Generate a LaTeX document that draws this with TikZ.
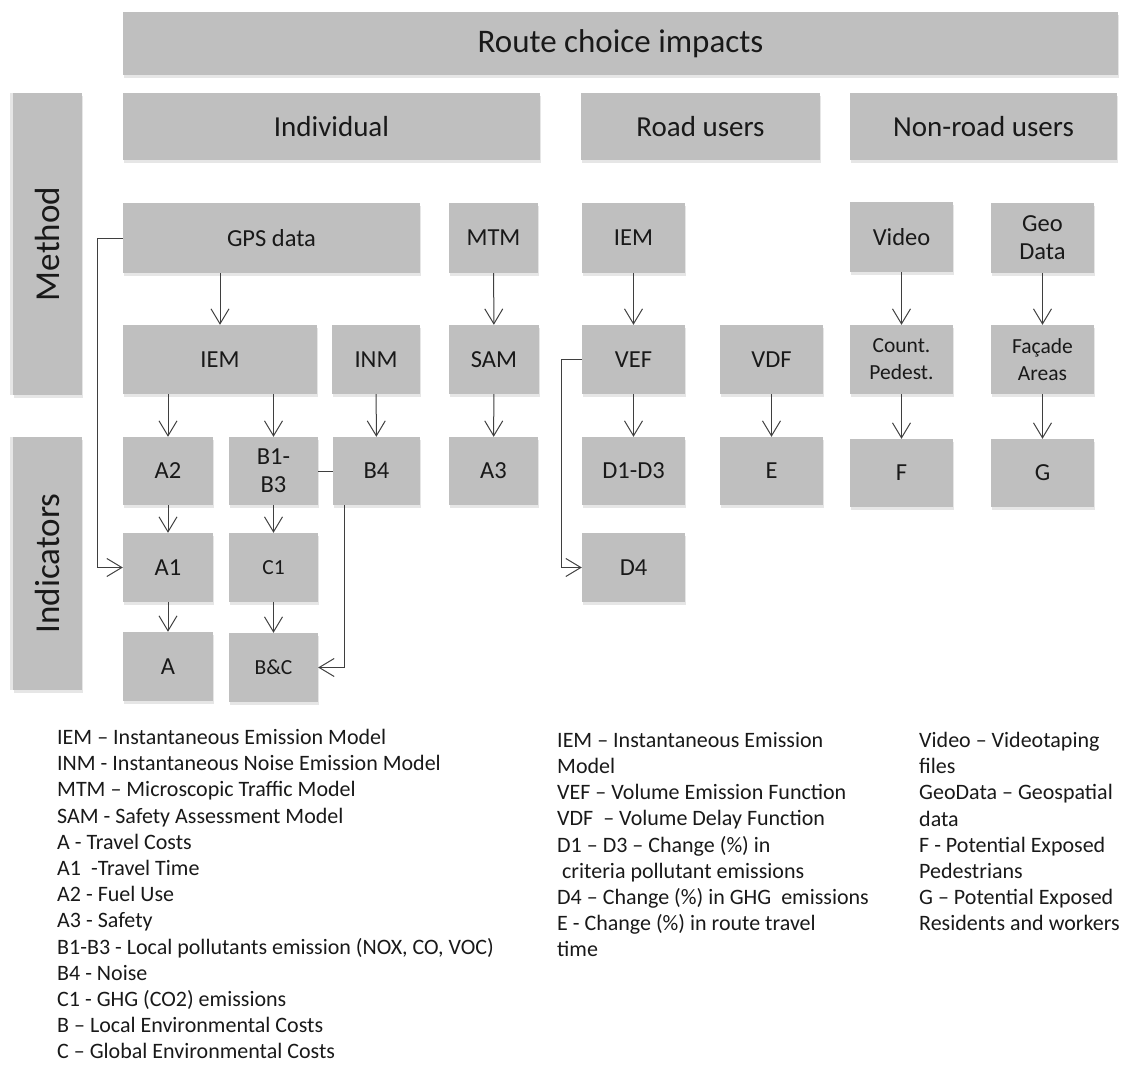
\documentclass[tikz,border=0pt]{standalone}
\usepackage{fontspec}
\setmainfont{Carlito}
\usetikzlibrary{arrows.meta,shadows}
\definecolor{boxgray}{HTML}{BFBFBF}
\definecolor{linegray}{HTML}{3F3F3F}
\tikzstyle{box}=[fill=boxgray, inner sep=0pt, align=center, text=black!90,
  drop shadow={shadow xshift=1pt,shadow yshift=-3pt,opacity=0.2},
  font=\fontsize{24.5}{28}\selectfont]
\tikzstyle{small}=[box, font=\fontsize{21.5}{27}\selectfont]
\tikzstyle{head}=[box, minimum height=67pt, font=\fontsize{29}{34}\selectfont]
\tikzstyle{side}=[box, minimum height=69pt, rotate=90,
  drop shadow={shadow xshift=-3pt,shadow yshift=0pt,opacity=0.2},
  font=\fontsize{35}{40}\selectfont]
\tikzstyle{arrow}=[linegray, line width=1pt, -{Straight Barb[length=15pt,width=18pt]}]
\tikzstyle{link}=[linegray, line width=1pt]
\tikzstyle{legend}=[anchor=north west, inner sep=0pt, align=left, text=black!90,
  font=\fontsize{22}{26.2}\selectfont]

\begin{document}
\begin{tikzpicture}[x=1pt,y=-1pt]
    \useasboundingbox (0,0) rectangle (1127,1065);
    % headers
    \node (title) [box, minimum width=995pt, minimum height=63pt, font=\fontsize{33}{38}\selectfont] at (620.5,43.5) {Route choice impacts};
    \node (indiv) [head, minimum width=417pt] at (331.5,126.5) {Individual};
    \node (road) [head, minimum width=239pt] at (700.5,126.5) {Road users};
    \node (nonroad) [head, minimum width=267pt] at (983.5,126.5) {Non-road users};
    \node (method) [side, minimum width=302pt] at (47.5,244) {Method};
    \node (indic) [side, minimum width=253pt] at (47.5,563.5) {Indicators};
    % method row 1
    \node (gps) [box, minimum width=297pt, minimum height=70pt] at (271.5,238) {GPS data};
    \node (mtm) [box, minimum width=89pt, minimum height=70pt] at (493.5,238) {MTM};
    \node (iemr) [box, minimum width=103pt, minimum height=70pt] at (633.5,238) {IEM};
    \node (video) [box, minimum width=103pt, minimum height=70pt] at (901.5,237) {Video};
    \node (geo) [box, minimum width=103pt, minimum height=70pt] at (1042.5,238) {Geo\\Data};
    % method row 2
    \node (iem) [box, minimum width=194pt, minimum height=69pt] at (220,359.5) {IEM};
    \node (inm) [box, minimum width=88pt, minimum height=69pt] at (376,359.5) {INM};
    \node (sam) [box, minimum width=90pt, minimum height=69pt] at (494,359.5) {SAM};
    \node (vef) [box, minimum width=103pt, minimum height=69pt] at (633.5,359.5) {VEF};
    \node (vdf) [box, minimum width=103pt, minimum height=69pt] at (771.5,359.5) {VDF};
    \node (count) [small, minimum width=103pt, minimum height=69pt] at (901.5,359.5) {Count.\\Pedest.};
    \node (facade) [small, minimum width=103pt, minimum height=69pt] at (1042.5,359.5) {Façade\\Areas};
    % indicators
    \node (a2) [box, minimum width=90pt, minimum height=68pt] at (168,471) {A2};
    \node (b13) [box, minimum width=89pt, minimum height=68pt] at (273.5,471) {B1-\\B3};
    \node (b4) [box, minimum width=87pt, minimum height=68pt] at (376.5,471) {B4};
    \node (a3) [box, minimum width=89pt, minimum height=68pt] at (493.5,471) {A3};
    \node (d13) [box, minimum width=103pt, minimum height=68pt] at (633.5,471) {D1-D3};
    \node (e) [box, minimum width=103pt, minimum height=68pt] at (771.5,471) {E};
    \node (f) [box, minimum width=103pt, minimum height=68pt] at (901.5,473) {F};
    \node (g) [box, minimum width=103pt, minimum height=68pt] at (1042.5,473) {G};
    \node (a1) [box, minimum width=90pt, minimum height=69pt] at (168,567.5) {A1};
    \node (c1) [small, minimum width=89pt, minimum height=69pt] at (273.5,567.5) {C1};
    \node (d4) [box, minimum width=103pt, minimum height=69pt] at (633.5,567.5) {D4};
    \node (a) [box, minimum width=90pt, minimum height=69pt] at (168,666.5) {A};
    \node (bc) [small, minimum width=89pt, minimum height=69pt] at (273.5,667.5) {B\&C};
    % connectors
    \path[arrow]
        (gps.south -| iem.north) edge (iem.north)
        (iem.south -| a2.north) edge (a2.north)
        (iem.south -| b13.north) edge (b13.north)
        (inm) edge (b4)
        (a2) edge (a1)
        (b13) edge (c1)
        (a1) edge (a)
        (c1) edge (bc)
        (mtm) edge (sam)
        (sam) edge (a3)
        (iemr) edge (vef)
        (vef) edge (d13)
        (vdf) edge (e)
        (video) edge (count)
        (count) edge (f)
        (geo) edge (facade)
        (facade) edge (g);
    \draw[link] (b13.east) -- (b4.west);
    \draw[arrow] (gps.west) -- ++(-25,0) |- (a1.west);
    \draw[arrow] ([xshift=-32.5pt]b4.south) |- (bc.east);
    \draw[arrow] (vef.west) -- ++(-20,0) |- (d4.west);
    % legends
    \node (leg1) [legend] at (57,729) {IEM – Instantaneous Emission Model\\
        INM - Instantaneous Noise Emission Model\\
        MTM – Microscopic Traffic Model\\
        SAM - Safety Assessment Model\\
        A - Travel Costs\\
        A1 \ -Travel Time\\
        A2 - Fuel Use\\
        A3 - Safety\\
        B1-B3 - Local pollutants emission (NOX, CO, VOC)\\
        B4 - Noise\\
        C1 - GHG (CO2) emissions\\
        B – Local Environmental Costs\\
        C – Global Environmental Costs};
    \node (leg2) [legend] at (557,732) {IEM – Instantaneous Emission\\
        Model\\
        VEF – Volume Emission Function\\
        VDF \ – Volume Delay Function\\
        D1 – D3 – Change (\%) in\\
        \ criteria pollutant emissions\\
        D4 – Change (\%) in GHG \ emissions\\
        E - Change (\%) in route travel\\
        time};
    \node (leg3) [legend] at (919,732) {Video – Videotaping\\
        files\\
        GeoData – Geospatial\\
        data\\
        F - Potential Exposed\\
        Pedestrians\\
        G – Potential Exposed\\
        Residents and workers};
\end{tikzpicture}
\end{document}
